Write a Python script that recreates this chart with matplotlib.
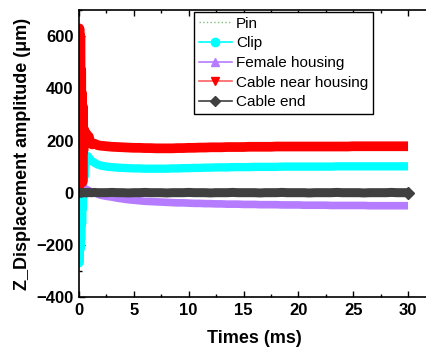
#!/usr/bin/env python3
"""Z displacement amplitude vs time for the connector parts."""
import matplotlib
matplotlib.use("Agg")
import matplotlib.pyplot as plt
from matplotlib.lines import Line2D
from matplotlib.ticker import MultipleLocator

plt.rcParams["font.family"] = ["Liberation Sans", "DejaVu Sans"]

# time axis (ms): dense at the start, then every 0.5 ms
times = [
    0.0, 0.04, 0.08, 0.12, 0.16, 0.2, 0.24, 0.28, 0.32, 0.36, 0.4,
    0.5, 0.6, 0.7, 0.8, 0.9, 1.0, 1.2, 1.4, 1.7, 2.0,
    2.5, 3.0, 3.5, 4.0, 4.5, 5.0, 5.5, 6.0, 6.5, 7.0, 7.5, 8.0, 8.5, 9.0, 9.5, 10.0,
    10.5, 11.0, 11.5, 12.0, 12.5, 13.0, 13.5, 14.0, 14.5, 15.0, 15.5, 16.0, 16.5, 17.0,
    17.5, 18.0, 18.5, 19.0, 19.5, 20.0, 20.5, 21.0, 21.5, 22.0, 22.5, 23.0, 23.5, 24.0,
    24.5, 25.0, 25.5, 26.0, 26.5, 27.0, 27.5, 28.0, 28.5, 29.0, 29.5, 30.0,
]

pin = [
    0, 0, 0, 0, 0, 0, 0, 0, 0, 0, 0,
    0, 0, 0, 0, 0, 0, 0, 0, 0, 0,
    0, 0, 0, 0, 0, 0, 0, 0, 0, 0, 0, 0, 0, 0, 0, 0,
    0, 0, 0, 0, 0, 0, 0, 0, 0, 0, 0, 0, 0, 0,
    0, 0, 0, 0, 0, 0, 0, 0, 0, 0, 0, 0, 0, 0,
    0, 0, 0, 0, 0, 0, 0, 0, 0, 0, 0, 0,
]

clip = [
    0, -270, 430, -220, 380, -180, 300, -120, 250, -60, 180,
    60, 110, 130, 140, 135, 128, 120, 115, 108, 104,
    100, 98, 96, 95, 94, 93, 93, 92, 92, 92, 92, 92, 93, 93, 94, 94,
    95, 95, 96, 96, 97, 97, 97, 98, 98, 98, 98, 99, 99, 99,
    99, 99, 100, 100, 100, 100, 100, 100, 100, 100, 100, 100, 101, 101,
    101, 101, 101, 101, 101, 101, 101, 101, 101, 101, 101, 101,
]

female_housing = [
    0, 5, 10, 14, 17, 19, 20, 20, 20, 19, 18,
    16, 14, 12, 10, 8, 6, 2, -1, -5, -10,
    -14, -17, -21, -24, -27, -29, -31, -33, -34, -35, -36, -37, -38, -39, -39, -40,
    -41, -41, -42, -42, -43, -43, -44, -44, -44, -45, -45, -45, -46, -46,
    -46, -46, -47, -47, -47, -47, -48, -48, -48, -48, -48, -49, -49, -49,
    -49, -49, -49, -49, -50, -50, -50, -50, -50, -50, -50, -50,
]

cable_near_housing = [
    0, 630, 120, 600, 300, 470, 80, 380, 40, 330, 160,
    240, 190, 225, 200, 215, 195, 185, 188, 182, 180,
    178, 176, 175, 174, 173, 172, 172, 171, 171, 170, 170, 170, 170, 171, 171, 172,
    172, 173, 173, 174, 174, 174, 175, 175, 175, 175, 176, 176, 176, 176,
    176, 177, 177, 177, 177, 177, 177, 177, 177, 177, 177, 177, 177, 177,
    177, 178, 178, 178, 178, 178, 178, 178, 178, 178, 178, 178,
]

cable_end = [
    0, 1, -1, 2, -1, 1, 0, 1, -1, 1, 0,
    1, 0, -1, 0, 1, 0, 0, 1, 0, 0,
    0, 1, 0, 0, -1, 0, 0, 1, 0, 0, 0, -1, 0, 0, 0, 1,
    0, 0, 0, -1, 0, 0, 0, 1, 0, 0, 0, 0, -1, 0,
    0, 0, 1, 0, 0, 0, 0, -1, 0, 0, 0, 0, 1, 0,
    0, 0, 0, -1, 0, 0, 0, 0, 1, 0, 0, 0,
]

# label, values, band colour, legend line colour, marker, style, band width (pt)
series = [
    ("Pin", pin, "#7fbf7f", "#7fbf7f", None, ":", 1.0),
    ("Clip", clip, "#00ffff", "#00ffff", "o", "-", 6.0),
    ("Female housing", female_housing, "#b57cff", "#b57cff", "^", "-", 5.5),
    ("Cable near housing", cable_near_housing, "#ff0000", "#ff6060", "v", "-", 7.0),
    ("Cable end", cable_end, "#404040", "#404040", "D", "-", 6.5),
]


def main() -> None:
    fig = plt.figure(figsize=(4.27, 3.49), dpi=100)
    ax = fig.add_axes([0.185, 0.149, 0.822, 0.822])

    handles = []
    # densely sampled data: the markers merge into a solid band
    for label, values, color, lcolor, marker, ls, lw in series:
        ax.plot(times, values, color=color, ls=ls, lw=lw,
                solid_joinstyle="round", solid_capstyle="butt")
        handles.append(Line2D([], [], color=lcolor, ls=ls, lw=1.2 if marker else 1.0,
                              marker=marker, markersize=6 if marker != "D" else 5,
                              markerfacecolor=color, markeredgecolor=color, label=label))
    ax.plot(times[-1:], cable_end[-1:], marker="D", markersize=6.5, color="#404040", ls="none")

    ax.set_xlim(0, 32)
    ax.set_ylim(-400, 700)
    ax.xaxis.set_major_locator(MultipleLocator(5))
    ax.xaxis.set_minor_locator(MultipleLocator(2.5))
    ax.yaxis.set_major_locator(MultipleLocator(200))
    ax.yaxis.set_minor_locator(MultipleLocator(100))
    ax.tick_params(which="both", direction="in", top=True, right=False, width=1)
    ax.tick_params(which="major", length=4, labelsize=12, pad=4)
    ax.tick_params(which="minor", length=2.5)
    for lab in ax.get_xticklabels() + ax.get_yticklabels():
        lab.set_fontweight("bold")
    for sp in ax.spines.values():
        sp.set_linewidth(1.2)

    ax.set_xlabel("Times (ms)", fontsize=13, fontweight="bold", labelpad=9)
    ax.set_ylabel("Z_Displacement amplitude (\u03bcm)", fontsize=13, fontweight="bold", labelpad=4)

    leg = ax.legend(handles=handles, loc="upper left",
                    bbox_to_anchor=(194 / 427, 1 - 12 / 349),
                    bbox_transform=fig.transFigure, fontsize=11, frameon=True,
                    fancybox=False, framealpha=1, edgecolor="black",
                    borderaxespad=0, borderpad=0.3, labelspacing=0.37,
                    handlelength=2.2, handletextpad=0.25)
    leg.get_frame().set_linewidth(1.0)

    fig.savefig("out.png", dpi=100)
    plt.close(fig)


if __name__ == "__main__":
    main()
